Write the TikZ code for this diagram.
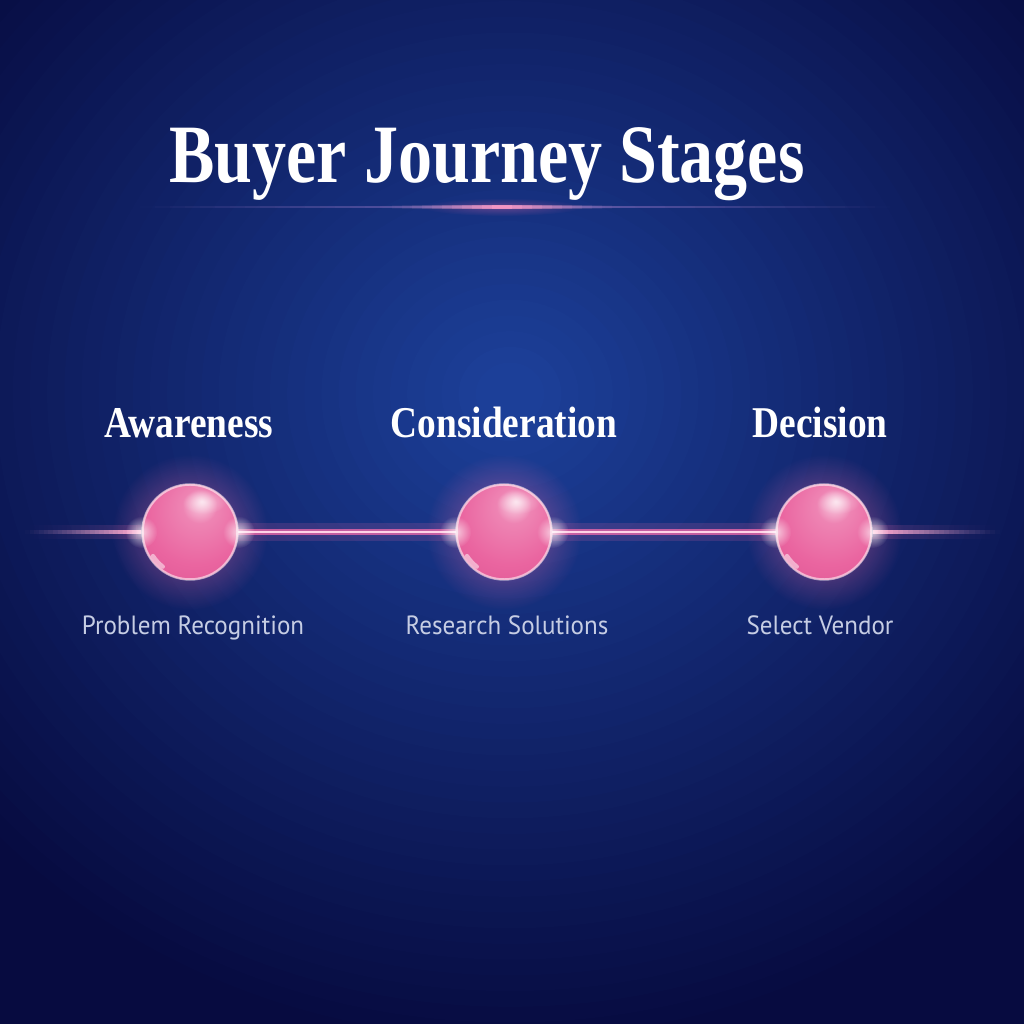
\documentclass[tikz,border=0pt]{standalone}
\usepackage{fontspec}
\usepackage{graphicx}
\setmainfont{Liberation Serif}
\newfontfamily\subfont{PT Sans}
\usetikzlibrary{fadings,calc}
\definecolor{bgmid}{HTML}{1C3F98}
\definecolor{bgedge}{HTML}{070B40}
\definecolor{orbpink}{HTML}{EA65A0}
\definecolor{orbdeep}{HTML}{D9508E}
\definecolor{glowpink}{HTML}{FF6EAE}
\definecolor{lilac}{HTML}{B88AD8}
\definecolor{subgray}{HTML}{C6CDE4}
\pgfdeclareradialshading{orbshade}{\pgfpoint{6bp}{16bp}}{color(0bp)=(white!75!orbpink); color(9bp)=(orbpink!80!white); color(26bp)=(orbpink); color(48bp)=(orbdeep); color(58bp)=(orbpink!55!white)}
\tikzfading[name=halo, inner color=transparent!30, outer color=transparent!100]
\pgfdeclarelayer{back}
\pgfsetlayers{back,main}
\tikzset{
  stagetext/.style={anchor=base, text=white, font=\fontsize{12.5}{14}\selectfont\bfseries},
  subtext/.style={anchor=base, text=subgray, font=\subfont\fontsize{7.5}{9}\selectfont},
  orb/.style={circle, inner sep=0pt, minimum size=0.96cm, shading=orbshade},
  beam/.style={glowpink, line cap=round}
}

\begin{document}
\begin{tikzpicture}[x=0.01cm, y=0.01cm]
  \useasboundingbox (0,0) rectangle (1024,1024);

  % title
  \node[anchor=base, text=white, font=\fontsize{23.6}{28}\selectfont\bfseries] (title) at (487,841) {\scalebox{0.82}[1]{Buyer Journey Stages}};

  % stages
  \node[orb] (aw) at (190,492) {};
  \node[orb] (co) at (504,492) {};
  \node[orb] (de) at (824,492) {};
  \coordinate (lend) at (25,492);
  \coordinate (rend) at (1000,492);

  \node[stagetext] (awl) at (189,586) {\scalebox{0.85}[1]{Awareness}};
  \node[stagetext] (col) at (504,586) {\scalebox{0.85}[1]{Consideration}};
  \node[stagetext] (del) at (820,586) {\scalebox{0.85}[1]{Decision}};

  \node[subtext] (aws) at (193,389) {\scalebox{0.95}[1]{Problem Recognition}};
  \node[subtext] (cos) at (507,389) {\scalebox{0.95}[1]{Research Solutions}};
  \node[subtext] (des) at (820,389) {\scalebox{0.95}[1]{Select Vendor}};

  \begin{pgfonlayer}{back}
    % backdrop
    \fill[bgedge] (0,0) rectangle (1024,1024);
    \begin{scope}
      \clip (0,0) rectangle (1024,1024);
      \foreach \i in {0,...,40}{
        \pgfmathsetmacro\p{100*(\i/40)^1.05}
        \fill[bgmid!\p!bgedge] (510,630) ellipse ({720*(1-\i/42)} and {660*(1-\i/42)});
      }
    \end{scope}
    % title rule
    \foreach \k in {0,...,49}{
      \pgfmathsetmacro\op{0.55*(1-abs(\k-24.5)/25)}
      \draw[lilac, line width=0.5pt, opacity=\op] ({140+15*\k},817) -- ({155+15*\k},817);
    }
    \foreach \k in {0,...,23}{
      \pgfmathsetmacro\op{0.95*(1-abs(\k-11.5)/12)^1.5}
      \draw[glowpink!55!white, line width=0.9pt, opacity=\op] ({382+10*\k},817) -- ({392+10*\k},817);
    }
    \fill[glowpink, opacity=0.45, path fading=halo] (502,817) ellipse (80 and 9);
    % glow and beams
    \foreach \o in {aw,co,de}{
      \fill[glowpink, opacity=0.8, path fading=halo] (\o.center) circle (78);
    }
    \draw[beam, line width=5pt, opacity=0.15] (aw) -- (co) (co) -- (de);
    \draw[beam, line width=1.9pt, opacity=0.7] (aw) -- (co) (co) -- (de);
    \draw[beam, line width=0.8pt, glowpink!30!white] (aw) -- (co) (co) -- (de);
    \foreach \k in {0,...,24}{
      \pgfmathsetmacro\op{((\k+1)/25)^1.3}
      \draw[glowpink!50!white, line width=1.1pt, opacity=\op] ($(lend)!{\k/25}!(aw.west)$) -- ($(lend)!{(\k+1)/25}!(aw.west)$);
      \draw[glowpink, line width=4pt, opacity=0.18*\op] ($(lend)!{\k/25}!(aw.west)$) -- ($(lend)!{(\k+1)/25}!(aw.west)$);
      \draw[glowpink!50!white, line width=1.1pt, opacity=\op] ($(rend)!{\k/25}!(de.east)$) -- ($(rend)!{(\k+1)/25}!(de.east)$);
      \draw[glowpink, line width=4pt, opacity=0.18*\op] ($(rend)!{\k/25}!(de.east)$) -- ($(rend)!{(\k+1)/25}!(de.east)$);
    }
  \end{pgfonlayer}

  % rims and flares
  \foreach \o in {aw,co,de}{
    \draw[white, opacity=0.55, line width=0.7pt] (\o.center) circle (47.5);
    \fill[white, path fading=halo] (\o.west) circle (16);
    \fill[white, path fading=halo] (\o.east) circle (16);
    \fill[white, opacity=0.6, path fading=halo] ($(\o.center)+(14,30)$) ellipse (22 and 12);
    \draw[white, opacity=0.5, line width=1.2pt, line cap=round] ($(\o.center)+(-37,-24)$) arc (213:232:44);
  }
\end{tikzpicture}
\end{document}
